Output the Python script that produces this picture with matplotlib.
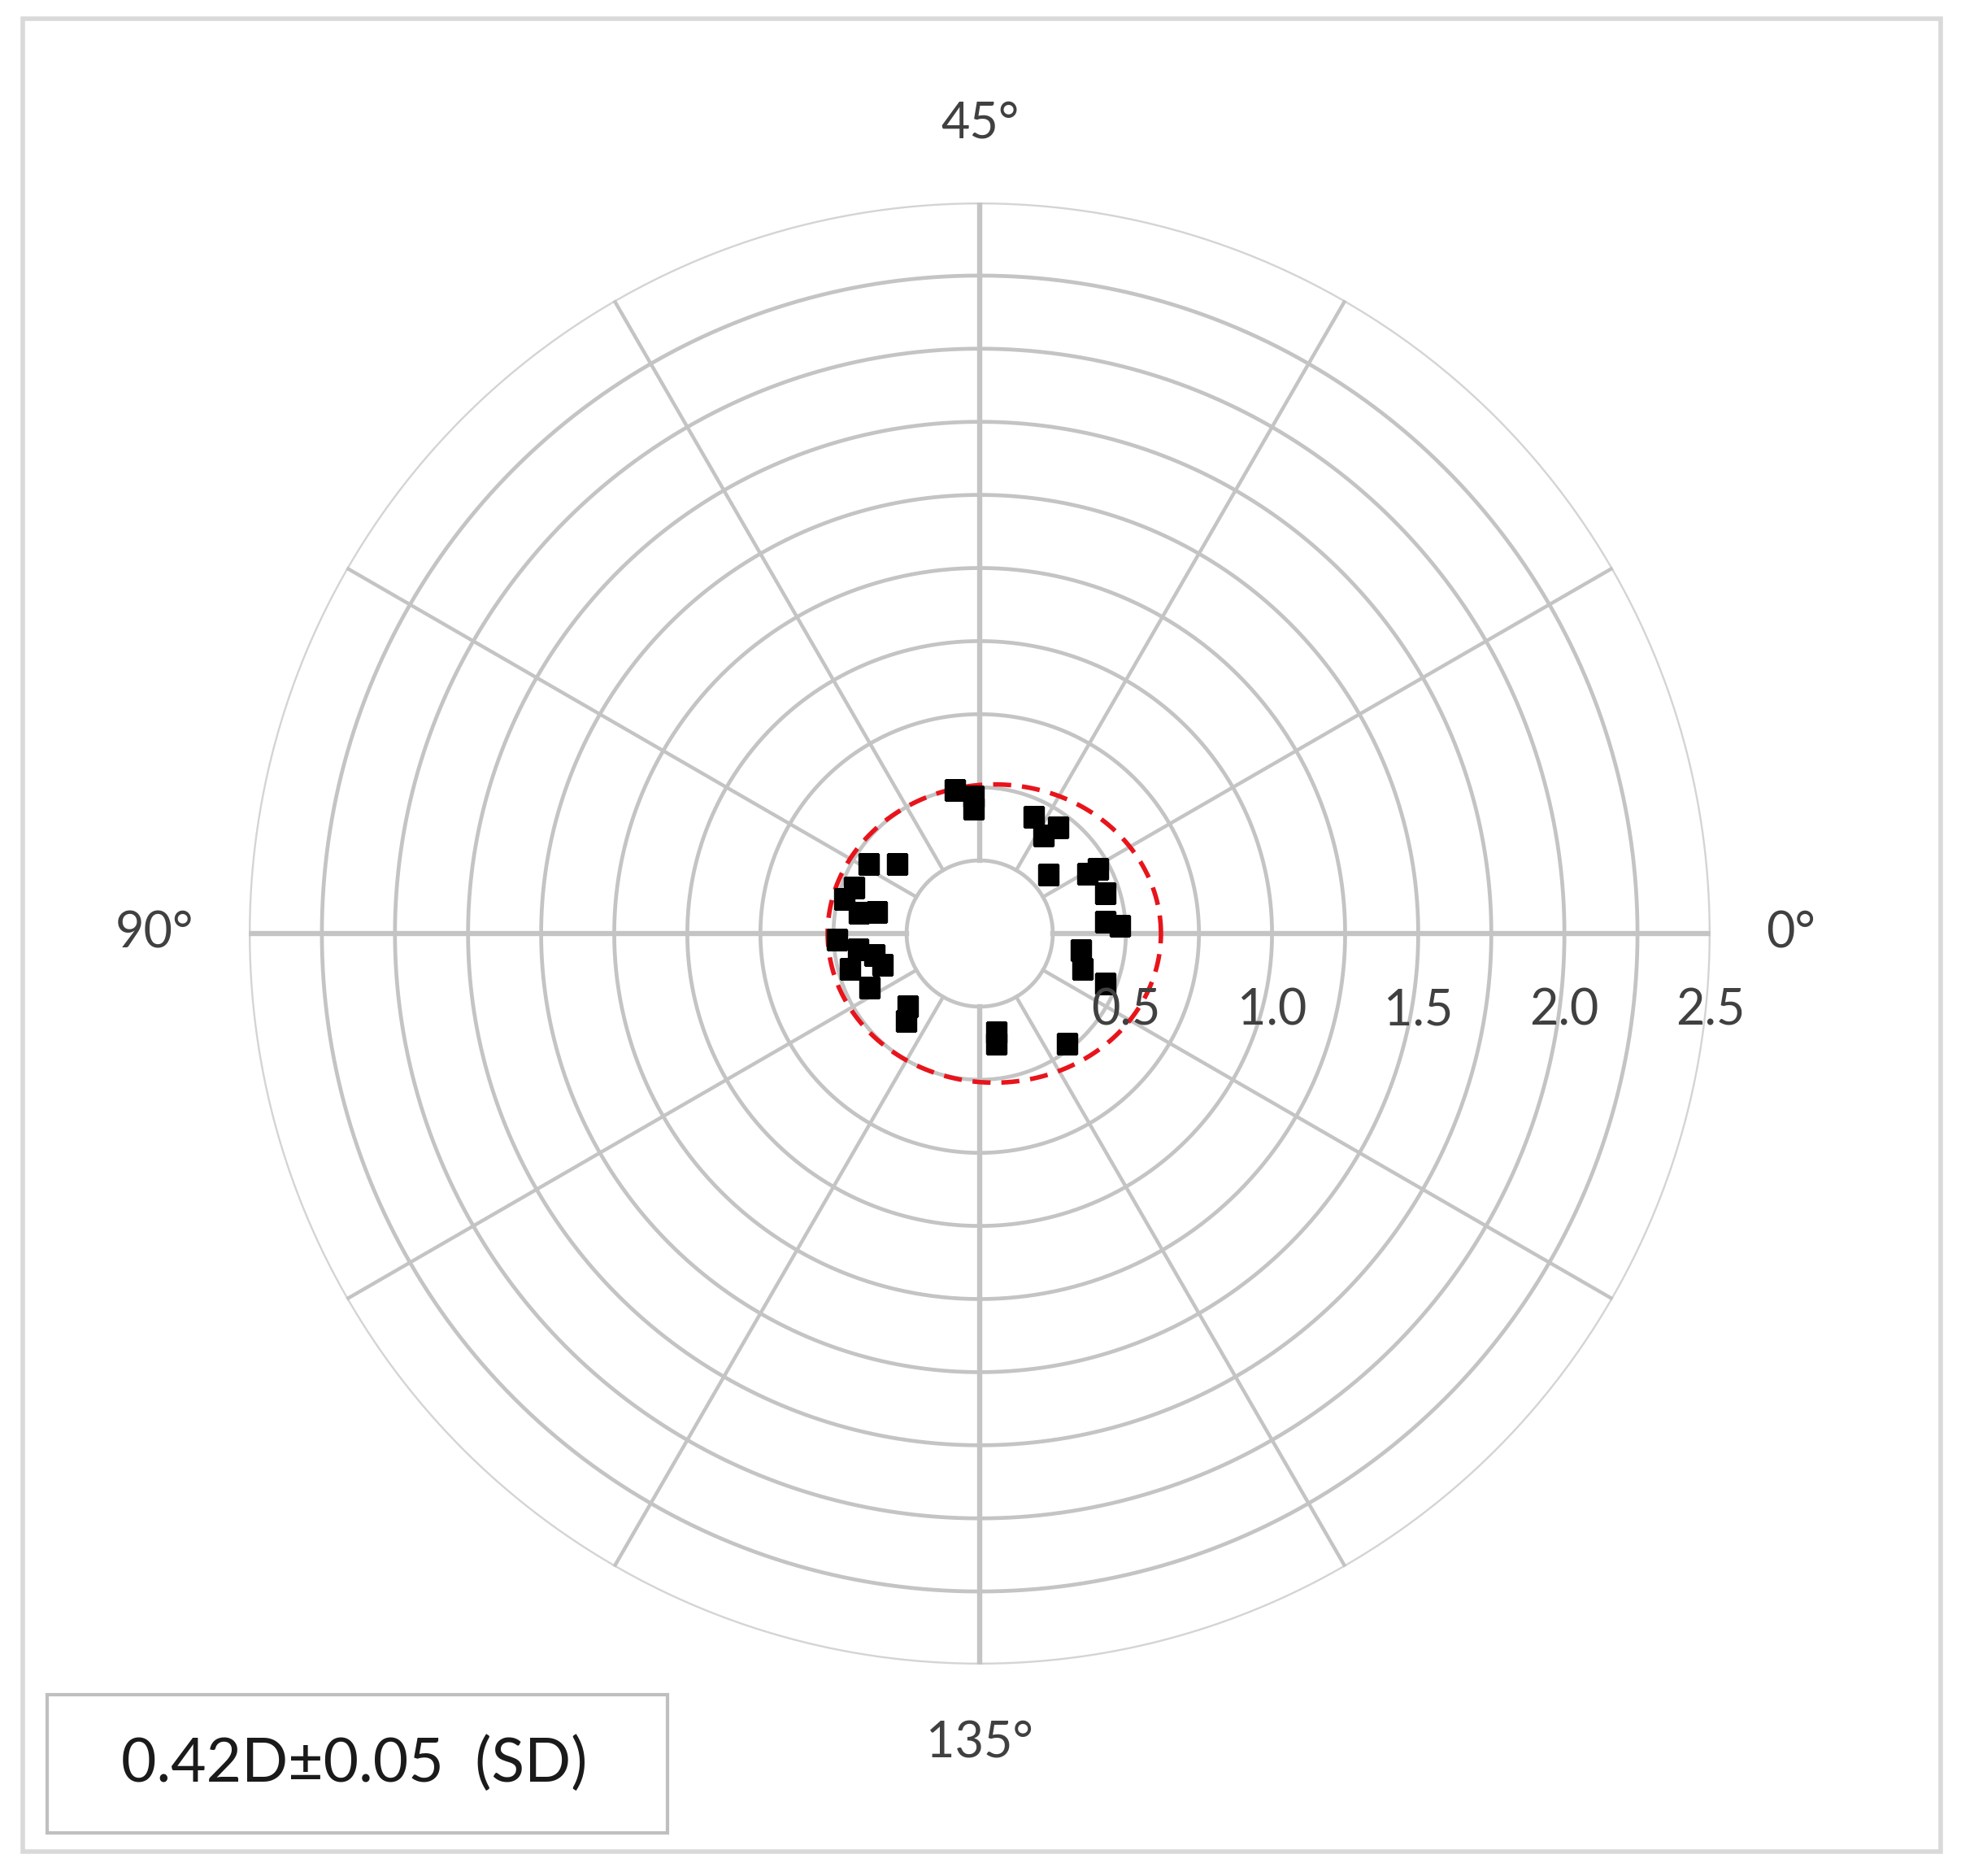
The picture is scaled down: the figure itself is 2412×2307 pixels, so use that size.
import numpy as np
import matplotlib
matplotlib.use("Agg")
from matplotlib import pyplot as plt
from matplotlib.patches import Rectangle
from matplotlib.transforms import offset_copy

# astigmatism vectors
magnitude = [0.50, 0.47, 0.43, 0.45, 0.37, 0.46, 0.48, 0.42, 0.36, 0.49, 0.42,
             0.37, 0.35, 0.46, 0.42, 0.35, 0.39, 0.34, 0.38, 0.44, 0.45, 0.40,
             0.31, 0.42, 0.46, 0.45, 0.43, 0.48, 0.35, 0.37, 0.46, 0.48]
axis_deg = [50.0, 46.4, 46.5, 74.0, 70.0, 79.9, 82.8, 85.1, 83.9, 91.2, 93.7,
            95.7, 98.7, 97.5, 103.0, 112.4, 114.8, 139.7, 139.2, 32.6, 26.9, 28.5,
            20.5, 14.6, 14.5, 9.0, 2.8, 1.6, 175.5, 170.5, 169.2, 154.2]

ring_values = [0.25, 0.5, 0.75, 1.0, 1.25, 1.5, 1.75, 2.0, 2.25, 2.5]
tick_labels = ["0.5", "1.0", "1.5", "2.0", "2.5"]
tick_values = [0.5, 1.0, 1.5, 2.0, 2.5]
angle_labels = [0, 45, 90, 135]
spoke_angles = list(range(0, 360, 30))

# dashed ellipse around the cloud (centre offset, semi axes)
ell_cx, ell_a, ell_b = 0.05, 0.57, 0.51
summary_text = "0.42D\u00b10.05  (SD)"

W, H = 2412, 2307
fig = plt.figure(figsize=(W / 100, H / 100), dpi=100)
font = ["Lato", "DejaVu Sans"]
grey = "#c4c4c4"
txt = "#404040"

# outer frame and summary box
fig.patches.append(Rectangle((28 / W, 30 / H), 2359 / W, 2254 / H, transform=fig.transFigure,
                             fill=False, ec="#d9d9d9", lw=4))
fig.patches.append(Rectangle((58 / W, 53 / H), 763 / W, 170 / H, transform=fig.transFigure,
                             fill=False, ec="#bfbfbf", lw=3))
fig.text(436 / W, 138 / H, summary_text, ha="center", va="center", fontsize=54,
         color="#1a1a1a", family=font)

ax = fig.add_axes([306 / W, 260 / H, 1798 / W, 1798 / H], projection="polar")
ax.set_ylim(0, 2.5)
ax.grid(False)
ax.spines["polar"].set_visible(False)
ax.set_xticks([])
ax.set_yticks([])
ax.patch.set_alpha(0)

full = np.linspace(0, 2 * np.pi, 721)
for r in ring_values:
    ax.plot(full, np.full_like(full, r), color=grey if r < 2.5 else "#d4d4d4", lw=3.4, zorder=1)
for a in spoke_angles:
    lw = 4.6 if a % 90 == 0 else 3.2
    ax.plot([np.deg2rad(a)] * 2, [0.25, 2.5], color=grey, lw=lw, zorder=1)

# dashed ellipse
t = np.linspace(0, 2 * np.pi, 400)
ex = ell_cx + ell_a * np.cos(t)
ey = ell_b * np.sin(t)
ax.plot(np.arctan2(ey, ex), np.hypot(ex, ey), color="#e8141b", lw=4,
        linestyle=(0, (4, 2.4)), zorder=2)

# points at double angle
theta = np.deg2rad(2 * np.array(axis_deg))
ax.plot(theta, magnitude, ls="none", marker="s", ms=18, color="black", zorder=3)

# radial tick labels under the 0 degree line
below = offset_copy(ax.transData, fig=fig, y=-95, units="dots")
for v, lab in zip(tick_values, tick_labels):
    ax.text(0, v, lab, transform=below, ha="center", va="center", fontsize=44,
            color=txt, family=font)

# angle labels
align = {0: ("left", "center"), 45: ("center", "bottom"),
         90: ("right", "center"), 135: ("center", "top")}
for a in angle_labels:
    ha, va = align[a]
    ax.text(np.deg2rad(2 * a), 2.69, f"{a}\u00b0", ha=ha, va=va, fontsize=44,
            color=txt, family=font)

fig.savefig("out.png", dpi=100)
plt.close(fig)
